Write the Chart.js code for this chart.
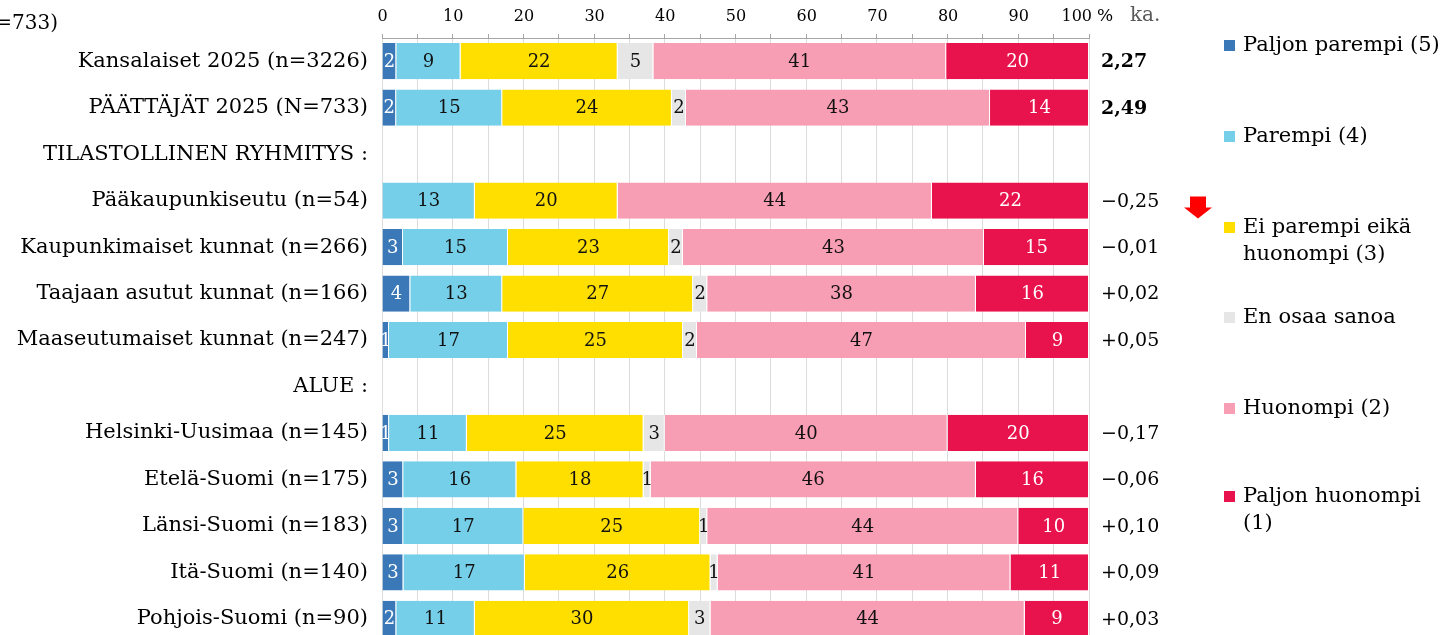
<!DOCTYPE html>
<html>
<head>
<meta charset="utf-8">
<script src="https://cdn.jsdelivr.net/npm/chart.js@4/dist/chart.umd.min.js"></script>
<style>
  html, body { margin: 0; padding: 0; background: #ffffff; overflow: hidden; }
  #wrap { position: relative; width: 1453px; height: 650px; }
</style>
</head>
<body>
<div id="wrap"><canvas id="c"></canvas></div>
<script>
const categories = [
  'Kansalaiset 2025 (n=3226)',
  'PÄÄTTÄJÄT 2025 (N=733)',
  'TILASTOLLINEN RYHMITYS :',
  'Pääkaupunkiseutu (n=54)',
  'Kaupunkimaiset kunnat (n=266)',
  'Taajaan asutut kunnat (n=166)',
  'Maaseutumaiset kunnat (n=247)',
  'ALUE :',
  'Helsinki-Uusimaa (n=145)',
  'Etelä-Suomi (n=175)',
  'Länsi-Suomi (n=183)',
  'Itä-Suomi (n=140)',
  'Pohjois-Suomi (n=90)'
];
const seriesNames = ['Paljon parempi (5)', 'Parempi (4)', 'Ei parempi eikä huonompi (3)', 'En osaa sanoa', 'Huonompi (2)', 'Paljon huonompi (1)'];
const legendLines = [['Paljon parempi (5)'], ['Parempi (4)'], ['Ei parempi eikä', 'huonompi (3)'], ['En osaa sanoa'], ['Huonompi (2)'], ['Paljon huonompi', '(1)']];
const paljonParempi = [2, 2, null, 0, 3, 4, 1, null, 1, 3, 3, 3, 2];
const parempi = [9, 15, null, 13, 15, 13, 17, null, 11, 16, 17, 17, 11];
const eiParempiEikaHuonompi = [22, 24, null, 20, 23, 27, 25, null, 25, 18, 25, 26, 30];
const enOsaaSanoa = [5, 2, null, 0, 2, 2, 2, null, 3, 1, 1, 1, 3];
const huonompi = [41, 43, null, 44, 43, 38, 47, null, 40, 46, 44, 41, 44];
const paljonHuonompi = [20, 14, null, 22, 15, 16, 9, null, 20, 16, 10, 11, 9];
const averages = ['2,27', '2,49', '', '−0,25', '−0,01', '+0,02', '+0,05', '', '−0,17', '−0,06', '+0,10', '+0,09', '+0,03'];
const boldAverages = [true, true, false, false, false, false, false, false, false, false, false, false, false];
const arrowRows = [3];
const xTickValues = [0, 10, 20, 30, 40, 50, 60, 70, 80, 90, 100];

const colors = ['#3a78b8', '#75cfe9', '#ffdf00', '#e6e6e6', '#f79db4', '#e8124d'];
const labelColors = ['#ffffff', '#111111', '#111111', '#111111', '#111111', '#ffffff'];
const rawSeries = [paljonParempi, parempi, eiParempiEikaHuonompi, enOsaaSanoa, huonompi, paljonHuonompi];

// 100 % stacked: share of each row total
const totals = categories.map((_, i) => rawSeries.reduce((s, arr) => s + (arr[i] || 0), 0));
const datasets = rawSeries.map((arr, k) => ({
  label: seriesNames[k],
  raw: arr,
  data: arr.map((v, i) => (v == null || totals[i] === 0) ? null : v * 100 / totals[i]),
  backgroundColor: colors[k],
  borderColor: '#ffffff',
  borderWidth: { left: 0, right: 1, top: 0, bottom: 0 },
  borderSkipped: false,
  categoryPercentage: 1,
  barPercentage: 0.78
}));

const FONT = "'DejaVu Serif', serif";

const overlay = {
  id: 'overlay',
  afterDatasetsDraw(chart) {
    const ctx = chart.ctx;
    ctx.save();
    ctx.font = '18px ' + FONT;
    ctx.textAlign = 'center';
    ctx.textBaseline = 'middle';
    chart.data.datasets.forEach((ds, k) => {
      const meta = chart.getDatasetMeta(k);
      meta.data.forEach((el, i) => {
        const v = ds.raw[i];
        if (v == null || v === 0) return;
        const p = el.getCenterPoint();
        ctx.fillStyle = labelColors[k];
        ctx.fillText(String(v), p.x, p.y + 1);
      });
    });
    ctx.restore();
  },
  afterDraw(chart) {
    const ctx = chart.ctx;
    const ys = chart.scales.y;
    const xs = chart.scales.x;
    const area = chart.chartArea;
    ctx.save();
    // x tick labels
    ctx.font = '16px ' + FONT;
    ctx.fillStyle = '#000000';
    ctx.textBaseline = 'alphabetic';
    xTickValues.forEach((v, idx) => {
      const x = xs.getPixelForValue(v);
      if (idx === xTickValues.length - 1) {
        ctx.textAlign = 'right';
        ctx.fillText(String(v), x + 3, 21);
      } else {
        ctx.textAlign = 'center';
        ctx.fillText(String(v), x + 0.5, 21);
      }
    });
    // header "% ka."
    ctx.textAlign = 'left';
    ctx.font = '17px ' + FONT;
    ctx.fillText('%', area.right + 8, 21);
    ctx.font = '20px ' + FONT;
    ctx.fillStyle = '#595959';
    ctx.fillText('ka.', area.right + 41, 21);
    // averages column
    ctx.textBaseline = 'middle';
    averages.forEach((t, i) => {
      if (!t) return;
      ctx.font = (boldAverages[i] ? 'bold 19px ' : '19px ') + FONT;
      ctx.fillStyle = '#000000';
      ctx.fillText(t, area.right + 12, ys.getPixelForValue(i) + 1);
    });
    // top-left cut title
    ctx.font = '20px ' + FONT;
    ctx.fillStyle = '#000000';
    ctx.textAlign = 'right';
    ctx.fillText('=733)', 58, 24);
    // arrows
    ctx.fillStyle = '#ff0000';
    arrowRows.forEach(i => {
      const cy = ys.getPixelForValue(i);
      const cx = 1198;
      ctx.beginPath();
      ctx.moveTo(cx - 8, cy - 4);
      ctx.lineTo(cx + 8, cy - 4);
      ctx.lineTo(cx + 8, cy + 7);
      ctx.lineTo(cx + 14, cy + 7);
      ctx.lineTo(cx, cy + 18);
      ctx.lineTo(cx - 14, cy + 7);
      ctx.lineTo(cx - 8, cy + 7);
      ctx.closePath();
      ctx.fill();
    });
    // legend
    const legendY = [46, 137, 228, 318, 409, 497];
    ctx.font = '21px ' + FONT;
    ctx.textAlign = 'left';
    legendLines.forEach((lines, k) => {
      const y = legendY[k];
      ctx.fillStyle = colors[k];
      ctx.fillRect(1224, y - 6, 11, 11);
      ctx.fillStyle = '#000000';
      lines.forEach((ln, j) => ctx.fillText(ln, 1243, y + j * 27));
    });
    ctx.restore();
  }
};

new Chart(document.getElementById('c'), {
  type: 'bar',
  data: { labels: categories, datasets },
  options: {
    indexAxis: 'y',
    responsive: true,
    maintainAspectRatio: false,
    devicePixelRatio: 1,
    animation: false,
    layout: { padding: { left: 0, right: 364, top: 0, bottom: 8 } },
    plugins: { legend: { display: false }, tooltip: { enabled: false } },
    scales: {
      x: {
        type: 'linear',
        position: 'top',
        stacked: true,
        min: 0,
        max: 100,
        afterFit(s) { s.height = 38; s.paddingLeft = 0; s.paddingRight = 0; },
        afterBuildTicks(s) {
          const t = [];
          for (let v = 0; v <= 100; v += 5) t.push({ value: v });
          s.ticks = t;
        },
        ticks: {
          autoSkip: false,
          maxRotation: 0,
          padding: 10,
          color: '#000000',
          font: { family: FONT, size: 14 },
          callback: () => ''
        },
        grid: { color: '#dcdcdc', tickColor: '#a6a6a6', tickLength: 4, lineWidth: 1 },
        border: { display: true, color: '#a6a6a6' }
      },
      y: {
        type: 'category',
        stacked: true,
        afterFit(s) { s.width = 382; s.paddingTop = 0; s.paddingBottom = 0; },
        grid: { display: false, drawTicks: false },
        border: { display: false },
        ticks: {
          autoSkip: false,
          padding: 14,
          color: '#000000',
          font: { family: FONT, size: 21 }
        }
      }
    }
  },
  plugins: [overlay]
});
</script>
</body>
</html>
